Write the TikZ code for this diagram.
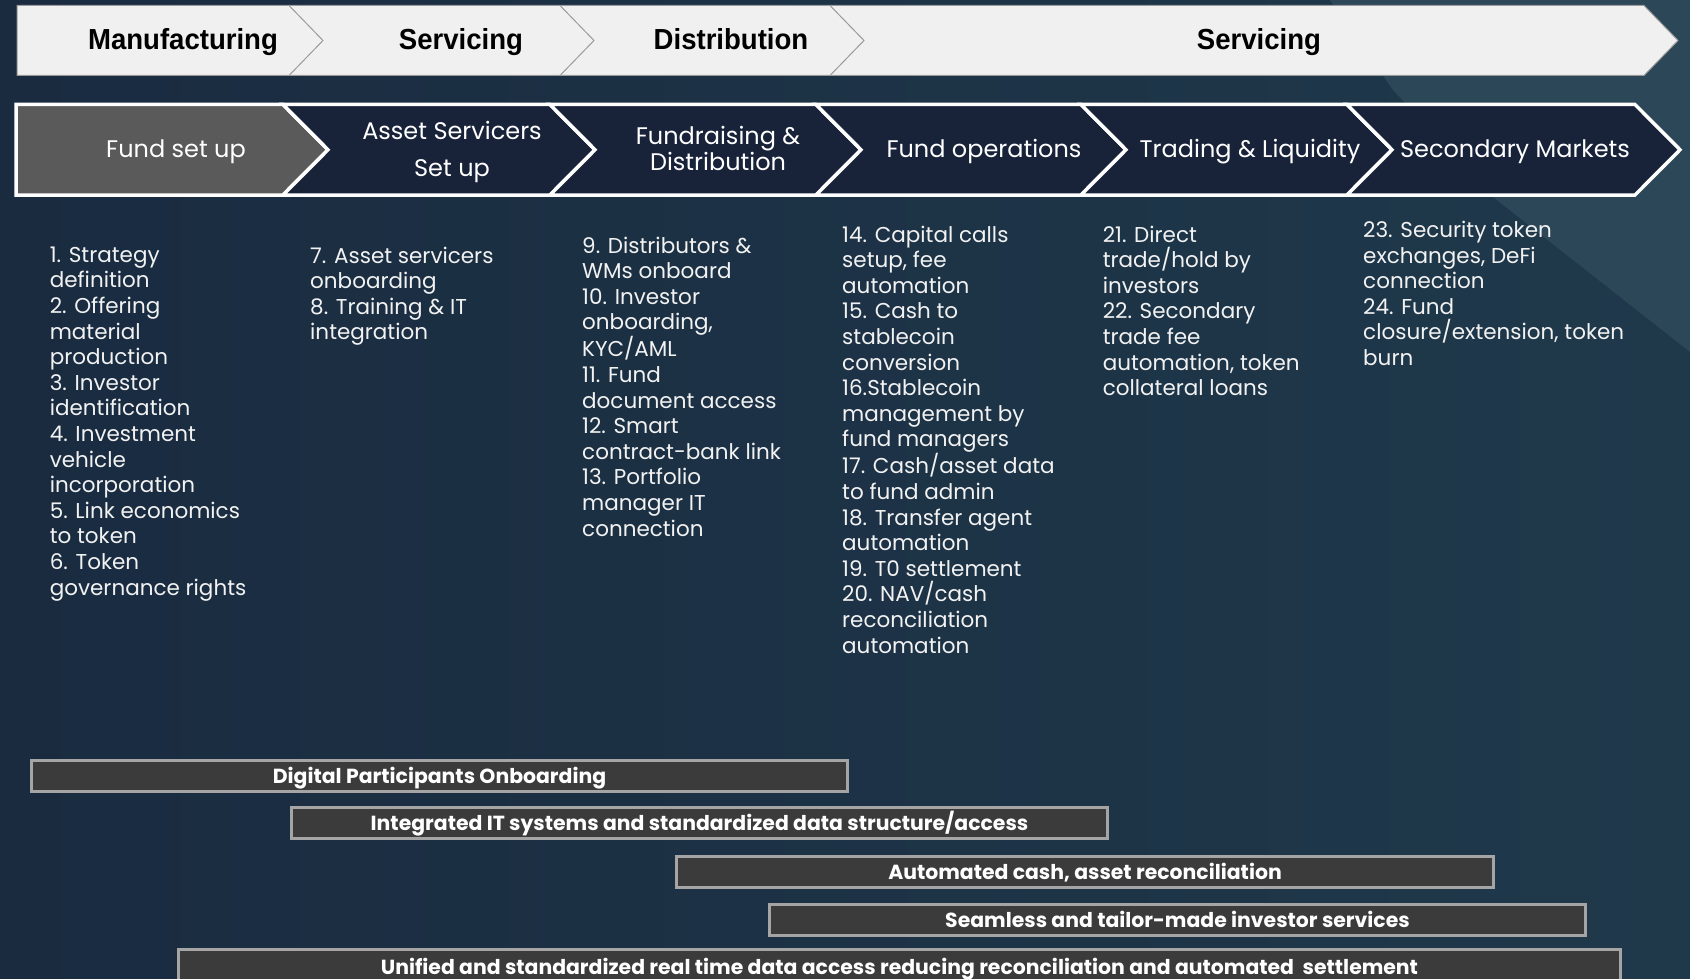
\documentclass[tikz,border=0pt]{standalone}
\usepackage{fontspec}
\setmainfont{Poppins}
\newfontfamily\headfont[FakeStretch=0.95]{Liberation Sans}

\definecolor{bgleft}{HTML}{1A2B40}
\definecolor{bgright}{HTML}{1F394B}
\definecolor{hilite}{HTML}{2C4757}
\definecolor{topfill}{HTML}{F0F0F0}
\definecolor{topline}{HTML}{9A9A9A}
\definecolor{navy}{HTML}{18233A}
\definecolor{stepgrey}{HTML}{5A5A5A}
\definecolor{barfill}{HTML}{3B3B3B}
\definecolor{barline}{HTML}{A5A5A5}
\definecolor{listcol}{HTML}{F2F2F2}

\tikzset{
  phasetext/.style={font=\headfont\bfseries\fontsize{29}{34}\selectfont, text=black, inner sep=0pt, anchor=base},
  stagetext/.style={font=\fontsize{24}{28}\selectfont, text=white, align=center, inner sep=0pt},
  stagebox/.style={fill=navy, draw=white, line width=3.5pt, line join=miter},
  listtext/.style={font=\fontsize{21.5}{25.6}\selectfont, text=listcol, align=left, anchor=north west, inner sep=0pt},
  barbox/.style={fill=barfill, draw=barline, line width=3pt, anchor=north west, inner sep=0pt,
    font=\bfseries\fontsize{20.4}{24}\selectfont, text=white, minimum height=31pt,
    text height=14.5pt, text depth=0pt},
}

\begin{document}
\begin{tikzpicture}[x=1pt,y=-1pt]
\useasboundingbox (0,0) rectangle (1690,979);
\clip (0,0) rectangle (1690,979);

% backdrop
\fill[left color=bgleft, right color=bgright] (0,0) rectangle (1690,979);
\fill[hilite] (1330,0) -- (1690,0) -- (1690,352) -- (1493,197) -- (1393,90) -- cycle;

% value-chain phases
\draw[fill=topfill, draw=topline, line width=1pt]
  (17,5.5) -- (1644,5.5) -- (1678,40.5) -- (1644,75.5) -- (17,75.5) -- cycle;
\foreach \x in {289,560,830}
  \draw[topline, line width=1pt] (\x,5.5) -- (\x+34,40.5) -- (\x,75.5);
\node[phasetext] (ph1) at (183,50) {Manufacturing};
\node[phasetext] (ph2) at (461,50) {Servicing};
\node[phasetext] (ph3) at (731,50) {Distribution};
\node[phasetext] (ph4) at (1259,50) {Servicing};

% lifecycle stages
\draw[stagebox, fill=stepgrey]
  (16,104.5) -- (283,104.5) -- (328,149.75) -- (283,195) -- (16,195) -- cycle;
\foreach \l/\r in {283/550, 550/816, 816/1081, 1081/1347, 1347/1635}
  \draw[stagebox] (\l,104.5) -- (\r,104.5) -- (\r+45,149.75) -- (\r,195)
    -- (\l,195) -- (\l+45,149.75) -- cycle;
\node[stagetext] (st1) at (176,151.5) {Fund set up};
\node[stagetext, font=\fontsize{24}{36.6}\selectfont] (st2) at (452,152) {Asset Servicers\\Set up};
\node[stagetext, font=\fontsize{24}{26}\selectfont] (st3) at (718,148) {Fundraising \&\\Distribution};
\node[stagetext] (st4) at (984,151.5) {Fund operations};
\node[stagetext] (st5) at (1250,151.5) {Trading \& Liquidity};
\node[stagetext] (st6) at (1515,151.5) {Secondary Markets};

% step lists
\node[listtext] (l1) at (49.6,246.5) {1. Strategy\\definition\\2. Offering\\material\\production\\3. Investor\\identification\\4. Investment\\vehicle\\incorporation\\5. Link economics\\to token\\6. Token\\governance rights};
\node[listtext] (l2) at (310,246.5) {7. Asset servicers\\onboarding\\8. Training \& IT\\integration};
\node[listtext] (l3) at (582,236.5) {9. Distributors \&\\WMs onboard\\10. Investor\\onboarding,\\KYC/AML\\11. Fund\\document access\\12. Smart\\contract-bank link\\13. Portfolio\\manager IT\\connection};
\node[listtext] (l4) at (842,225.5) {14. Capital calls\\setup, fee\\automation\\15. Cash to\\stablecoin\\conversion\\16.Stablecoin\\management by\\fund managers\\17. Cash/asset data\\to fund admin\\18. Transfer agent\\automation\\19. T0 settlement\\20. NAV/cash\\reconciliation\\automation};
\node[listtext] (l5) at (1102.6,225.5) {21. Direct\\trade/hold by\\investors\\22. Secondary\\trade fee\\automation, token\\collateral loans};
\node[listtext] (l6) at (1363,221) {23. Security token\\exchanges, DeFi\\connection\\24. Fund\\closure/extension, token\\burn};

% enabling capabilities
\node[barbox, minimum width=816pt] (b1) at (30,759) {Digital Participants Onboarding};
\node[barbox, minimum width=816pt] (b2) at (290,806) {Integrated IT systems and standardized data structure/access};
\node[barbox, minimum width=817pt] (b3) at (675,855) {Automated cash, asset reconciliation};
\node[barbox, minimum width=816pt] (b4) at (768,903) {Seamless and tailor-made investor services};
\node[barbox, minimum width=1442pt, minimum height=36pt] (b5) at (177,948) {Unified and standardized real time data access reducing reconciliation and automated\ \ settlement};
\end{tikzpicture}
\end{document}
